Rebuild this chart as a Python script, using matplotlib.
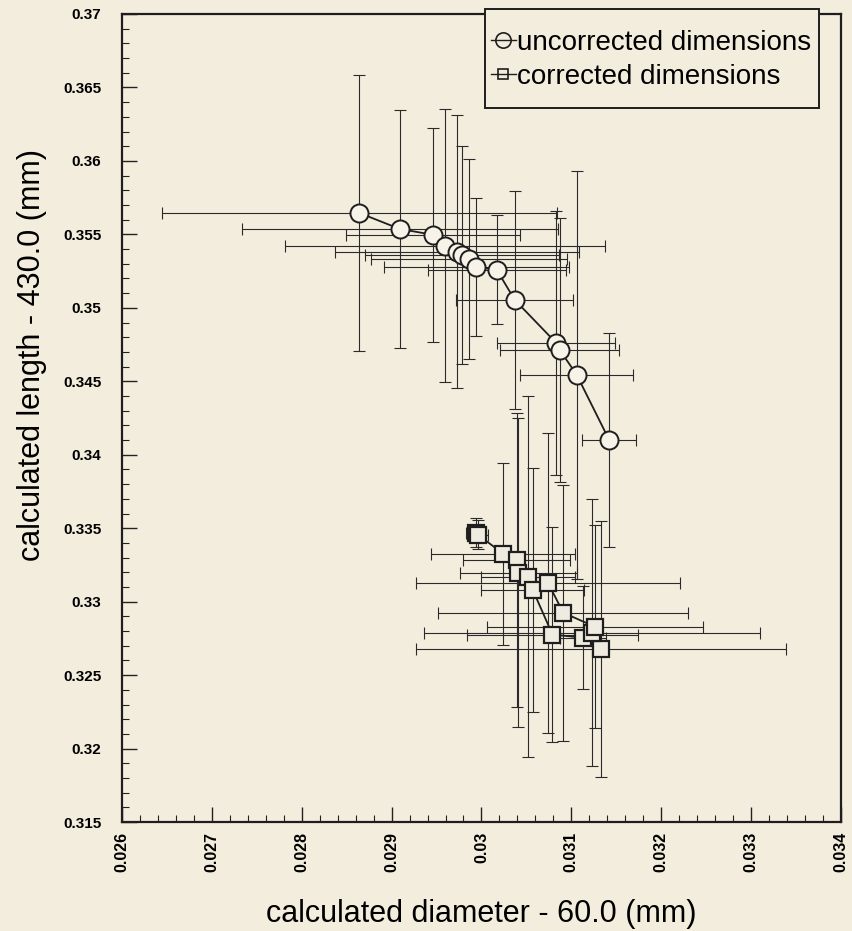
import numpy as np
import matplotlib
matplotlib.use('Agg')
import matplotlib.pyplot as plt
from matplotlib.patches import Rectangle
from matplotlib.ticker import MultipleLocator, FuncFormatter

# 字體設定
plt.rcParams['font.family'] = ['Liberation Sans', 'DejaVu Sans']

# uncorrected dimensions (circles)
unc_x = [0.02864, 0.02909, 0.02946, 0.02959, 0.02973, 0.02978, 0.02986,
         0.02994, 0.03017, 0.03037, 0.03083, 0.03087, 0.03106, 0.03142]
unc_y = [0.35646, 0.35537, 0.35497, 0.35422, 0.35381, 0.35361, 0.35333,
         0.35279, 0.35259, 0.35054, 0.34762, 0.34714, 0.34544, 0.34102]
unc_xerr = [0.0022, 0.00176, 0.00097, 0.00178, 0.00136, 0.00108, 0.00109,
            0.00103, 0.00077, 0.00065, 0.00066, 0.00066, 0.00063, 0.0003]
unc_yerr = [0.0094, 0.0081, 0.0073, 0.0093, 0.0093, 0.0074, 0.0068,
            0.0047, 0.0037, 0.0074, 0.0090, 0.0090, 0.0139, 0.0073]

# corrected dimensions (squares)
cor_x = [0.02994, 0.02996, 0.03024, 0.03039, 0.03041, 0.03052, 0.03057,
         0.03079, 0.03113, 0.03133, 0.03123, 0.03126, 0.03091, 0.03074]
cor_y = [0.33469, 0.33456, 0.33327, 0.33286, 0.33197, 0.33170, 0.33082,
         0.32776, 0.32755, 0.32680, 0.32789, 0.32830, 0.32925, 0.33129]
cor_xerr = [0.00011, 0.00011, 0.0008, 0.00059, 0.00065, 0.00052, 0.00057,
            0.00095, 0.00026, 0.00206, 0.00187, 0.0012, 0.00139, 0.00147]
cor_yerr = [0.001, 0.001, 0.0062, 0.0100, 0.0105, 0.0123, 0.0083,
            0.0073, 0.0035, 0.0087, 0.0091, 0.0069, 0.0087, 0.0102]

bg = '#f3eddd'
fig = plt.figure(figsize=(8.52, 9.31), dpi=100, facecolor=bg)
ax = fig.add_axes([0.1432, 0.117, 0.8438, 0.868], facecolor=bg)

ax.errorbar(unc_x, unc_y, xerr=unc_xerr, yerr=unc_yerr, fmt='none',
            ecolor='#2a2a2a', elinewidth=0.8, capsize=4.5, capthick=0.8, zorder=2)
ax.errorbar(cor_x, cor_y, xerr=cor_xerr, yerr=cor_yerr, fmt='none',
            ecolor='#2a2a2a', elinewidth=0.8, capsize=4.5, capthick=0.8, zorder=2)

ax.plot(unc_x, unc_y, '-', color='#1e1e1e', lw=1.3, marker='o', ms=13,
        mfc='#f7f3e8', mec='#1e1e1e', mew=1.4, zorder=3)
ax.plot(cor_x, cor_y, '-', color='#1e1e1e', lw=1.3, marker='s', ms=12,
        mfc='#efebe0', mec='#1e1e1e', mew=1.6, zorder=3)

ax.set_xlim(0.026, 0.034)
ax.set_ylim(0.315, 0.37)

ax.xaxis.set_major_locator(MultipleLocator(0.001))
ax.xaxis.set_minor_locator(MultipleLocator(0.0002))
ax.yaxis.set_major_locator(MultipleLocator(0.005))
ax.yaxis.set_minor_locator(MultipleLocator(0.001))
fmt = FuncFormatter(lambda v, p: '%g' % round(v, 4))
ax.xaxis.set_major_formatter(fmt)
ax.yaxis.set_major_formatter(fmt)

ax.tick_params(which='both', direction='in', top=False, right=False,
               color='#222222')
ax.tick_params(which='major', length=11, width=1)
ax.tick_params(which='minor', length=5, width=0.8)
ax.tick_params(axis='x', which='major', pad=7)
ax.tick_params(axis='y', which='major', pad=15)
for lab in ax.get_yticklabels():
    lab.set_fontsize(11)
    lab.set_fontweight('bold')
for lab in ax.get_xticklabels():
    lab.set_fontsize(11.5)
    lab.set_fontweight('bold')
    lab.set_rotation(90)

for s in ax.spines.values():
    s.set_linewidth(1.6)
    s.set_color('#1e1e1e')

ax.set_xlabel('calculated diameter - 60.0 (mm)', fontsize=22)
ax.xaxis.set_label_coords(0.5, -0.095)
ax.set_ylabel('calculated length - 430.0 (mm)', fontsize=22)
ax.yaxis.set_label_coords(-0.105, 0.578)

# 圖例框
box = Rectangle((0.5049, 0.8837), 0.4645, 0.1225, transform=ax.transAxes,
                facecolor=bg, edgecolor='#1e1e1e', lw=1.4, clip_on=False,
                zorder=5)
ax.add_patch(box)

h1, = ax.plot([], [], '-', color='#1e1e1e', lw=1, marker='o', ms=11,
              mfc='none', mec='#1e1e1e', mew=1.2)
h2, = ax.plot([], [], '-', color='#1e1e1e', lw=1, marker='s', ms=7,
              mfc='none', mec='#1e1e1e', mew=1.2)
leg = ax.legend([h1, h2], ['uncorrected dimensions', 'corrected dimensions'],
                loc='center', bbox_to_anchor=(0.736, 0.943), fontsize=20,
                frameon=False, handlelength=0.9, handletextpad=0.05,
                borderpad=0, labelspacing=0.28, borderaxespad=0,
                alignment='left')
leg.set_zorder(6)

plt.savefig('out.png', dpi=100, facecolor=bg)
